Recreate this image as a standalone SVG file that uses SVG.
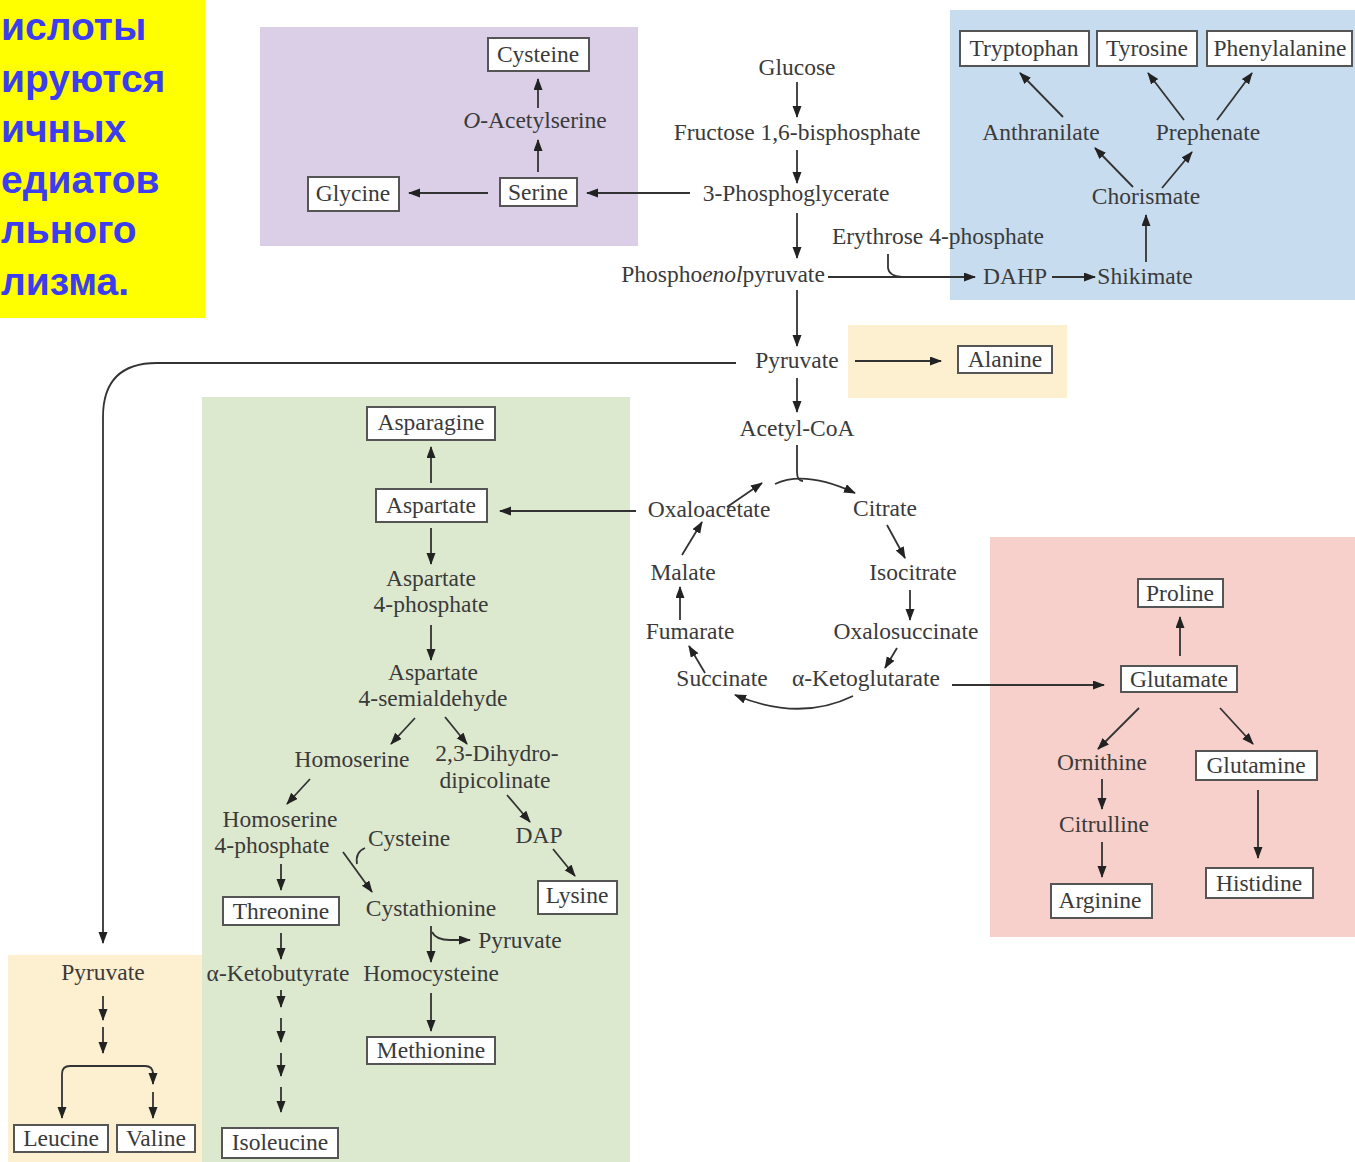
<svg xmlns="http://www.w3.org/2000/svg" width="1355" height="1162" viewBox="0 0 1355 1162">
<defs>
<style>
text{font-family:"Liberation Serif","DejaVu Serif",serif;font-size:23.5px;fill:#3a3a3a}
.m{text-anchor:middle}
.box{fill:#fff;stroke:#555;stroke-width:2}
.ln{fill:none;stroke:#333;stroke-width:1.8}
.arr{fill:none;stroke:#333;stroke-width:1.8;marker-end:url(#ah)}
.ru{font-family:"Liberation Sans",Arial,sans-serif;font-weight:bold;font-size:39px;fill:#3c3cf0}
.it{font-style:italic}
</style>
<marker id="ah" markerUnits="userSpaceOnUse" markerWidth="12" markerHeight="10" refX="11" refY="4.5" orient="auto">
<path d="M0,0 L12,4.5 L0,9 z" fill="#222"/>
</marker>
</defs>
<rect width="1355" height="1162" fill="#fff"/>

<g id="regions">
<rect x="0" y="0" width="205" height="318" fill="#ffff00"/>
<rect x="260" y="27" width="378" height="219" fill="#dacfe6"/>
<rect x="950" y="10" width="405" height="290" fill="#c8dcef"/>
<rect x="848" y="325" width="219" height="73" fill="#fdf0d0"/>
<rect x="202" y="397" width="428" height="765" fill="#dde9cf"/>
<rect x="990" y="537" width="365" height="400" fill="#f7d0cb"/>
<rect x="8" y="955" width="194" height="207" fill="#fdf0d0"/>
</g>

<g id="title">
<text class="ru" x="1" y="40">ислоты</text>
<text class="ru" x="1" y="92">ируются</text>
<text class="ru" x="1" y="142">ичных</text>
<text class="ru" x="1" y="193">едиатов</text>
<text class="ru" x="1" y="243">льного</text>
<text class="ru" x="1" y="295">лизма.</text>
</g>

<g id="connectors">
<line class="arr" x1="538" y1="108" x2="538" y2="79"/>
<line class="arr" x1="538" y1="172" x2="538" y2="140"/>
<line class="arr" x1="488" y1="193" x2="409" y2="193"/>
<line class="arr" x1="690" y1="193" x2="587" y2="193"/>
<line class="arr" x1="797" y1="82" x2="797" y2="117"/>
<line class="arr" x1="797" y1="150" x2="797" y2="183"/>
<line class="arr" x1="797" y1="213" x2="797" y2="258"/>
<line class="arr" x1="797" y1="290" x2="797" y2="346"/>
<line class="arr" x1="797" y1="378" x2="797" y2="412"/>
<line class="arr" x1="828" y1="277" x2="975" y2="277"/>
<path class="ln" d="M888 254 L888 268 Q889 276 902 277"/>
<line class="arr" x1="1052" y1="277" x2="1095" y2="277"/>
<line class="arr" x1="1146" y1="262" x2="1146" y2="215"/>
<line class="arr" x1="1133" y1="187" x2="1095" y2="148"/>
<line class="arr" x1="1162" y1="188" x2="1192" y2="152"/>
<line class="arr" x1="1063" y1="117" x2="1020" y2="73"/>
<line class="arr" x1="1184" y1="120" x2="1148" y2="73"/>
<line class="arr" x1="1217" y1="120" x2="1252" y2="73"/>
<line class="arr" x1="855" y1="361" x2="941" y2="361"/>
<path class="arr" d="M736 363 L157 363 Q103 363 103 417 L103 943"/>
<line class="arr" x1="103" y1="996" x2="103" y2="1020"/>
<line class="arr" x1="103" y1="1027" x2="103" y2="1053"/>
<path class="arr" d="M153 1074 Q153 1066 145 1066 L70 1066 Q62 1066 62 1074 L62 1118"/>
<line class="arr" x1="153" y1="1072" x2="153" y2="1084"/>
<line class="arr" x1="153" y1="1092" x2="153" y2="1118"/>
<path class="ln" d="M797 445 L797 472 Q797 481 803 481"/>
<path class="arr" d="M775 484 Q805 470 855 493"/>
<line class="arr" x1="727" y1="507" x2="762" y2="483"/>
<line class="arr" x1="887" y1="525" x2="905" y2="558"/>
<line class="arr" x1="910" y1="590" x2="910" y2="620"/>
<line class="arr" x1="897" y1="648" x2="885" y2="668"/>
<path class="arr" d="M853 696 Q800 722 735 695"/>
<line class="arr" x1="705" y1="673" x2="689" y2="646"/>
<line class="arr" x1="680" y1="620" x2="680" y2="587"/>
<line class="arr" x1="682" y1="555" x2="702" y2="522"/>
<line class="arr" x1="636" y1="511" x2="500" y2="511"/>
<line class="arr" x1="952" y1="685" x2="1104" y2="685"/>
<line class="arr" x1="431" y1="483" x2="431" y2="447"/>
<line class="arr" x1="431" y1="528" x2="431" y2="564"/>
<line class="arr" x1="431" y1="625" x2="431" y2="660"/>
<line class="arr" x1="415" y1="718" x2="391" y2="744"/>
<line class="arr" x1="445" y1="717" x2="467" y2="744"/>
<line class="arr" x1="310" y1="779" x2="287" y2="804"/>
<line class="arr" x1="507" y1="795" x2="530" y2="822"/>
<line class="arr" x1="553" y1="849" x2="575" y2="876"/>
<line class="arr" x1="281" y1="864" x2="281" y2="890"/>
<line class="arr" x1="343" y1="852" x2="372" y2="892"/>
<path class="ln" d="M365 848 Q355 852 357 864"/>
<line class="arr" x1="431" y1="926" x2="431" y2="962"/>
<path class="arr" d="M432 932 Q436 940 450 940 L470 940"/>
<line class="arr" x1="431" y1="993" x2="431" y2="1031"/>
<line class="arr" x1="281" y1="933" x2="281" y2="959"/>
<line class="arr" x1="281" y1="990" x2="281" y2="1007"/>
<line class="arr" x1="281" y1="1018" x2="281" y2="1042"/>
<line class="arr" x1="281" y1="1053" x2="281" y2="1076"/>
<line class="arr" x1="281" y1="1087" x2="281" y2="1112"/>
<line class="arr" x1="1180" y1="656" x2="1180" y2="617"/>
<line class="arr" x1="1139" y1="708" x2="1098" y2="749"/>
<line class="arr" x1="1220" y1="708" x2="1253" y2="744"/>
<line class="arr" x1="1102" y1="779" x2="1102" y2="809"/>
<line class="arr" x1="1102" y1="842" x2="1102" y2="877"/>
<line class="arr" x1="1258" y1="790" x2="1258" y2="858"/>
</g>

<g id="n-cysteine"><rect class="box" x="488" y="38" width="101" height="33"/><text class="m" x="538" y="62">Cysteine</text></g>
<g id="n-oacetylserine"><text class="m" x="535" y="128"><tspan class="it">O</tspan>-Acetylserine</text></g>
<g id="n-serine"><rect class="box" x="500" y="178" width="77" height="28"/><text class="m" x="538" y="200">Serine</text></g>
<g id="n-glycine"><rect class="box" x="308" y="177" width="91" height="34"/><text class="m" x="353" y="201">Glycine</text></g>

<g id="n-glucose"><text class="m" x="797" y="75">Glucose</text></g>
<g id="n-f16bp"><text class="m" x="797" y="140">Fructose 1,6-bisphosphate</text></g>
<g id="n-3pg"><text class="m" x="796" y="201">3-Phosphoglycerate</text></g>
<g id="n-e4p"><text class="m" x="938" y="244">Erythrose 4-phosphate</text></g>
<g id="n-pep"><text class="m" x="723" y="282">Phospho<tspan class="it">enol</tspan>pyruvate</text></g>
<g id="n-dahp"><text class="m" x="1015" y="284">DAHP</text></g>
<g id="n-shikimate"><text class="m" x="1145" y="284">Shikimate</text></g>
<g id="n-chorismate"><text class="m" x="1146" y="204">Chorismate</text></g>
<g id="n-anthranilate"><text class="m" x="1041" y="140">Anthranilate</text></g>
<g id="n-prephenate"><text class="m" x="1208" y="140">Prephenate</text></g>
<g id="n-tryptophan"><rect class="box" x="960" y="31" width="129" height="35"/><text class="m" x="1024" y="56">Tryptophan</text></g>
<g id="n-tyrosine"><rect class="box" x="1097" y="31" width="100" height="35"/><text class="m" x="1147" y="56">Tyrosine</text></g>
<g id="n-phenylalanine"><rect class="box" x="1207" y="31" width="145" height="35"/><text class="m" x="1280" y="56">Phenylalanine</text></g>

<g id="n-pyruvate"><text class="m" x="797" y="368">Pyruvate</text></g>
<g id="n-alanine"><rect class="box" x="958" y="346" width="94" height="27"/><text class="m" x="1005" y="367">Alanine</text></g>
<g id="n-acetylcoa"><text class="m" x="797" y="436">Acetyl-CoA</text></g>

<g id="n-oxaloacetate"><text class="m" x="709" y="517">Oxaloacetate</text></g>
<g id="n-citrate"><text class="m" x="885" y="516">Citrate</text></g>
<g id="n-malate"><text class="m" x="683" y="580">Malate</text></g>
<g id="n-isocitrate"><text class="m" x="913" y="580">Isocitrate</text></g>
<g id="n-fumarate"><text class="m" x="690" y="639">Fumarate</text></g>
<g id="n-oxalosuccinate"><text class="m" x="906" y="639">Oxalosuccinate</text></g>
<g id="n-succinate"><text class="m" x="722" y="686">Succinate</text></g>
<g id="n-akg"><text class="m" x="866" y="686">α-Ketoglutarate</text></g>

<g id="n-asparagine"><rect class="box" x="367" y="407" width="128" height="33"/><text class="m" x="431" y="430">Asparagine</text></g>
<g id="n-aspartate"><rect class="box" x="376" y="489" width="111" height="33"/><text class="m" x="431" y="513">Aspartate</text></g>
<g id="n-asp4p"><text class="m" x="431" y="586">Aspartate</text><text class="m" x="431" y="612">4-phosphate</text></g>
<g id="n-asp4sa"><text class="m" x="433" y="680">Aspartate</text><text class="m" x="433" y="706">4-semialdehyde</text></g>
<g id="n-homoserine"><text class="m" x="352" y="767">Homoserine</text></g>
<g id="n-dhdp"><text class="m" x="497" y="761">2,3-Dihydro-</text><text class="m" x="495" y="788">dipicolinate</text></g>
<g id="n-hs4p"><text class="m" x="280" y="827">Homoserine</text><text class="m" x="272" y="853">4-phosphate</text></g>
<g id="n-dap"><text class="m" x="539" y="843">DAP</text></g>
<g id="n-cysteine2"><text class="m" x="409" y="846">Cysteine</text></g>
<g id="n-lysine"><rect class="box" x="538" y="881" width="79" height="33"/><text class="m" x="577" y="903">Lysine</text></g>
<g id="n-threonine"><rect class="box" x="223" y="897" width="116" height="28"/><text class="m" x="281" y="919">Threonine</text></g>
<g id="n-cystathionine"><text class="m" x="431" y="916">Cystathionine</text></g>
<g id="n-pyruvate2"><text class="m" x="520" y="948">Pyruvate</text></g>
<g id="n-akb"><text class="m" x="278" y="981">α-Ketobutyrate</text></g>
<g id="n-homocysteine"><text class="m" x="431" y="981">Homocysteine</text></g>
<g id="n-methionine"><rect class="box" x="367" y="1037" width="128" height="27"/><text class="m" x="431" y="1058">Methionine</text></g>
<g id="n-isoleucine"><rect class="box" x="222" y="1128" width="116" height="30"/><text class="m" x="280" y="1150">Isoleucine</text></g>

<g id="n-pyruvate3"><text class="m" x="103" y="980">Pyruvate</text></g>
<g id="n-leucine"><rect class="box" x="14" y="1125" width="94" height="27"/><text class="m" x="61" y="1146">Leucine</text></g>
<g id="n-valine"><rect class="box" x="117" y="1125" width="78" height="27"/><text class="m" x="156" y="1146">Valine</text></g>

<g id="n-glutamate"><rect class="box" x="1121" y="666" width="116" height="26"/><text class="m" x="1179" y="687">Glutamate</text></g>
<g id="n-proline"><rect class="box" x="1138" y="579" width="85" height="28"/><text class="m" x="1180" y="601">Proline</text></g>
<g id="n-ornithine"><text class="m" x="1102" y="770">Ornithine</text></g>
<g id="n-glutamine"><rect class="box" x="1196" y="751" width="121" height="29"/><text class="m" x="1256" y="773">Glutamine</text></g>
<g id="n-citrulline"><text class="m" x="1104" y="832">Citrulline</text></g>
<g id="n-arginine"><rect class="box" x="1051" y="884" width="101" height="34"/><text class="m" x="1100" y="908">Arginine</text></g>
<g id="n-histidine"><rect class="box" x="1206" y="868" width="107" height="30"/><text class="m" x="1259" y="891">Histidine</text></g>
</svg>
